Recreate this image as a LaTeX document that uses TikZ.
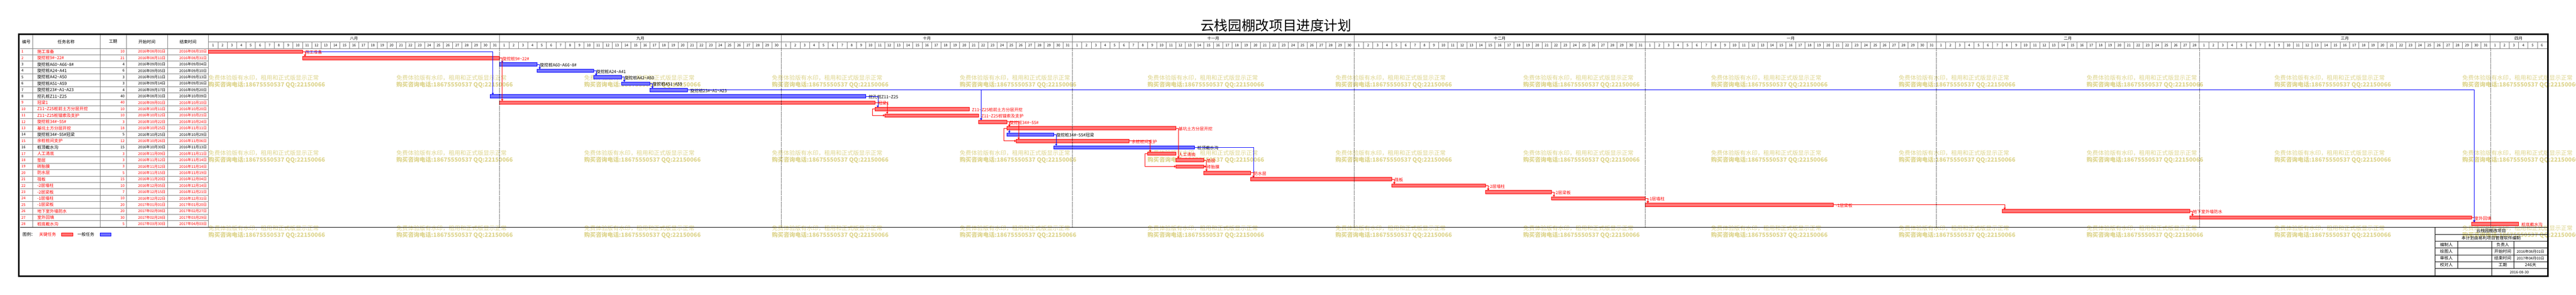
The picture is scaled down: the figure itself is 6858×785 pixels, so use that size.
\documentclass[tikz,border=0pt]{standalone}
\usepackage{fontspec}
\setmainfont{Noto Sans CJK SC}
\usetikzlibrary{arrows.meta}

\definecolor{gridgray}{RGB}{128,128,128}
\definecolor{wmark}{RGB}{221,212,140}
\colorlet{rbar}{red}
\colorlet{rtxt}{red}
\colorlet{bbar}{blue}
\colorlet{btxt}{black}

\tikzset{
  gridline/.style={draw=gridgray, line width=0.05cm},
  thickframe/.style={line width=0.2cm},
  monthline/.style={line width=0.04cm, dash pattern=on 0.05cm off 0.1cm},
  tbline/.style={line width=0.06cm},
  taskbar/.style={draw=#1, fill=#1!55, line width=0.05cm, minimum height=0.45cm,
    inner sep=0pt, outer sep=0pt, anchor=west},
  dep/.style={draw=#1, line width=0.05cm, -{Triangle[length=0.22cm, width=0.3cm]}},
  cell/.style={font=\fontsize{16}{18}\selectfont, inner sep=0pt},
  datecell/.style={font=\fontsize{14}{16}\selectfont, inner sep=0pt},
  hdr/.style={font=\fontsize{16}{18}\selectfont, inner sep=0pt},
  monthtext/.style={font=\fontsize{15}{17}\selectfont, inner sep=0pt},
  daytext/.style={font=\fontsize{13}{15}\selectfont, inner sep=0pt},
  lbl/.style={font=\fontsize{16}{18}\selectfont, inner sep=0pt, anchor=west},
  wmtext/.style={text=wmark, font=\fontsize{22}{25.6}\selectfont, align=left, inner sep=0pt},
  tbtext/.style={font=\fontsize{16}{18}\selectfont, inner sep=0pt},
}

\begin{document}
\begin{tikzpicture}[x=0.05cm, y=-0.05cm]
\useasboundingbox (0,0) rectangle (6858,785);

% Watermark
\foreach \k in {0,...,12}
  \foreach \r in {0,1,2}
    \node[wmtext, anchor=north west] (wm\k-\r) at (555+500*\k, 200+200*\r)
      {免费体验版有水印，租用和正式版显示正常\\{\bfseries 购买咨询电话:18675550537 QQ:22150066}};

% Title
\node[font=\fontsize{52}{56}\selectfont, inner sep=0pt] (title) at (3397,68) {云栈园棚改项目进度计划};

% Frame and table grid
\draw[thickframe] (50.5,91) rectangle (6783.5,736);
\foreach \xx in {87,266,336,446,555}
  \draw[gridline] (\xx,93) -- (\xx,605);
\draw[gridline] (53,129) -- (6781,129);
\draw[gridline] (555,112) -- (6781,112);
\foreach \r in {1,...,27}
  \draw[gridline] (53,129+17*\r) -- (555,129+17*\r);
\draw[line width=0.06cm] (53,605) -- (6781,605);
\foreach \j in {1,...,248}
  \draw[gridline] (555+25*\j,112) -- (555+25*\j,129);

% Table header
\node[hdr] (h1) at (70,111) {编号};
\node[hdr] (h2) at (176,111) {任务名称};
\node[hdr] (h3) at (301,111) {工期};
\node[hdr] (h4) at (391,111) {开始时间};
\node[hdr] (h5) at (500.5,111) {结束时间};

% Months and days
\foreach \m/\o/\n/\lab in {1/0/31/八月, 2/31/30/九月, 3/61/31/十月, 4/92/30/十一月,
    5/122/31/十二月, 6/153/31/一月, 7/184/28/二月, 8/212/31/三月, 9/243/6/四月}{
  \node[monthtext] (m\m) at (555+25*\o+12.5*\n, 102.5) {\lab};
  \foreach \dd in {1,...,\n}
    \node[daytext] (d\m-\dd) at (555+25*\o+25*\dd-12.5, 120.5) {\dd};
  \ifnum\o>0
    \draw[gridline] (555+25*\o,93) -- (555+25*\o,112);
  \fi
}

% Tasks
\foreach \i/\s/\d/\cc/\name/\start/\finish in {
    1/0/10/r/施工准备/2016年08月01日/2016年08月10日,
    2/10/21/r/旋挖桩9\#\textasciitilde 22\#/2016年08月11日/2016年08月31日,
    3/31/4/b/旋挖桩A60\textasciitilde A66\textasciitilde 8\#/2016年09月01日/2016年09月04日,
    4/35/6/b/旋挖桩A24\textasciitilde A41/2016年09月05日/2016年09月10日,
    5/41/3/b/旋挖桩A42\textasciitilde A50/2016年09月11日/2016年09月13日,
    6/44/3/b/旋挖桩A51\textasciitilde A59/2016年09月14日/2016年09月16日,
    7/47/4/b/旋挖桩23\#\textasciitilde A1\textasciitilde A23/2016年09月17日/2016年09月20日,
    8/30/40/b/挖孔桩Z11\textasciitilde Z25/2016年08月31日/2016年10月09日,
    9/31/40/r/冠梁1/2016年09月01日/2016年10月10日,
    10/71/10/r/Z11\textasciitilde Z25桩前土方分层开挖/2016年10月11日/2016年10月20日,
    11/72/10/r/Z11\textasciitilde Z25桩锚索及支护/2016年10月12日/2016年10月21日,
    12/82/3/r/旋挖桩34\#\textasciitilde 55\#/2016年10月22日/2016年10月24日,
    13/85/18/r/基坑土方分层开挖/2016年10月25日/2016年11月11日,
    14/85/5/b/旋挖桩34\#\textasciitilde 55\#冠梁/2016年10月25日/2016年10月29日,
    15/86/12/r/余桩桩间支护/2016年10月26日/2016年11月06日,
    16/90/15/b/桩顶截水沟/2016年10月30日/2016年11月13日,
    17/100/3/r/人工清底/2016年11月09日/2016年11月11日,
    18/103/3/r/垫层/2016年11月12日/2016年11月14日,
    19/103/3/r/砖胎膜/2016年11月12日/2016年11月14日,
    20/106/5/r/防水层/2016年11月15日/2016年11月19日,
    21/111/15/r/筏板/2016年11月20日/2016年12月04日,
    22/126/10/r/-2层墙柱/2016年12月05日/2016年12月14日,
    23/136/7/r/-2层梁板/2016年12月15日/2016年12月21日,
    24/143/10/r/-1层墙柱/2016年12月22日/2016年12月31日,
    25/153/20/r/-1层梁板/2017年01月01日/2017年01月20日,
    26/191/20/r/地下室外墙防水/2017年02月08日/2017年02月27日,
    27/211/30/r/室外回填/2017年02月28日/2017年03月29日,
    28/241/5/r/桩底截水沟/2017年03月30日/2017年04月03日}{
  \node[datecell, text=\cc txt, anchor=west] (no\i) at (57,120.5+17*\i) {\i};
  \node[cell, text=\cc txt, anchor=west] (nm\i) at (99,120.5+17*\i) {\name};
  \node[datecell, text=\cc txt, anchor=east] (du\i) at (332,120.5+17*\i) {\d};
  \node[datecell, text=\cc txt, anchor=east] (st\i) at (441,120.5+17*\i) {\start};
  \node[datecell, text=\cc txt, anchor=east] (fi\i) at (551,120.5+17*\i) {\finish};
  \node[taskbar=\cc bar, minimum width=1.25cm*\d] (t\i) at (555+25*\s,120.5+17*\i) {};
  \node[lbl, text=\cc txt] (n\i) at ([xshift=0.38cm, yshift=-0.1cm]t\i.east) {\name};
}

% Month lines
\foreach \o in {31,61,92,122,153,184,212,243}
  \draw[monthline] (555+25*\o,129) -- (555+25*\o,605);

% Links
\foreach \a/\b in {1/8,2/3,3/4,4/5,5/6,6/7,7/12,8/10,14/16,16/21}
  \draw[dep=blue] (t\a.east) -| ([xshift=0.35cm]t\b.north west);
\draw[dep=blue] ([xshift=0.35cm]t13.south west) -- ([xshift=0.35cm]t14.north west);
\foreach \a/\b in {1/2,2/9,9/11,12/13,12/15,13/18,15/17,18/20,20/21,21/22,22/23,23/24,24/25,25/26,26/27,27/28}
  \draw[dep=red] (t\a.east) -| ([xshift=0.35cm]t\b.north west);
\draw[dep=blue] (t7.east) -| ([xshift=0.35cm]t28.north west);
\foreach \a/\b in {10/11,13/15,17/19}
  \draw[dep=red] (t\a.west) -- ++(-0.35cm,0) |- (t\b.west);
\coordinate (k18) at ([xshift=0.35cm]t18.east);
\draw[dep=red] (k18 |- t19.east) -- (t19.east);

% Legend
\node[cell, anchor=west] (lg) at (60,625) {图例：};
\node[cell, text=red, anchor=west] (lgc) at (104,625) {关键任务};
\node[taskbar=rbar, minimum width=1.5cm] (kc) at (164,624.5) {};
\node[cell, anchor=west] (lgn) at (206,625) {一般任务};
\node[taskbar=bbar, minimum width=1.5cm] (kn) at (266,624.5) {};

% Title block
\draw[tbline] (6483,606) -- (6483,736);
\foreach \yy in {625,643,661,679,697,715}
  \draw[tbline] (6483,\yy) -- (6781,\yy);
\draw[tbline] (6543,643) -- (6543,715);
\draw[tbline] (6633,643) -- (6633,736);
\draw[tbline] (6693,643) -- (6693,715);
\node[tbtext] (tbp) at (6632,615.5) {云栈园棚改项目};
\node[tbtext] (tbs) at (6632,634) {本计划由易利项目管理软件编制};
\foreach \j/\l/\rr in {1/编制人/负责人, 2/绘图人/开始时间, 3/审核人/结束时间, 4/校对人/工期}{
  \node[tbtext] (tbl\j) at (6513,634+18*\j) {\l};
  \node[tbtext] (tbr\j) at (6663,634+18*\j) {\rr};
}
\node[datecell] (tbst) at (6737,670) {2016年08月01日};
\node[datecell] (tbfi) at (6737,688) {2017年04月03日};
\node[tbtext] (tbdu) at (6737,706) {246天};
\node[datecell] (tbdt) at (6707,725.5) {2016-08-30};

\end{tikzpicture}
\end{document}
